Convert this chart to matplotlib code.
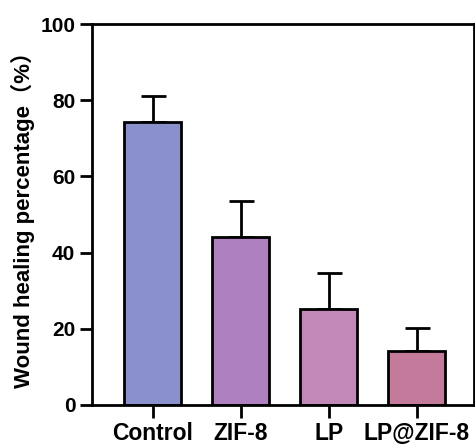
import matplotlib
matplotlib.use("Agg")
from matplotlib import pyplot as plt

groups = ["Control", "ZIF-8", "LP", "LP@ZIF-8"]
healing_mean = [74.2, 44.2, 25.1, 14.1]
healing_sd = [7.0, 9.3, 9.6, 6.2]
bar_colors = ["#8a90cc", "#ae80c0", "#c288b8", "#c47b9b"]

plt.rcParams["font.family"] = ["Liberation Sans", "Noto Sans CJK SC", "DejaVu Sans"]
plt.rcParams["font.weight"] = "bold"
lw = 2.0

fig = plt.figure(figsize=(4.75, 4.45), dpi=100)
ax = fig.add_axes([92 / 475, 40 / 445, 382 / 475, 381 / 445])

x = range(len(groups))
ax.bar(x, healing_mean, width=0.65, color=bar_colors, edgecolor="black", linewidth=lw, zorder=2)
ax.errorbar(x, healing_mean, yerr=[[0] * len(groups), healing_sd], fmt="none",
            ecolor="black", elinewidth=lw, capsize=9, capthick=lw, zorder=1)

ax.set_xlim(-0.69, 3.65)
ax.set_ylim(0, 100)
ax.set_yticks([0, 20, 40, 60, 80, 100])
ax.set_xticks(list(x))
ax.set_xticklabels(groups, fontsize=16.5, fontweight="bold")
ax.tick_params(axis="y", labelsize=15, length=9, width=lw, pad=3)
ax.tick_params(axis="x", length=9, width=lw, pad=3)
for lab in ax.get_yticklabels():
    lab.set_fontweight("bold")
for side in ax.spines.values():
    side.set_linewidth(lw)
ax.set_ylabel("Wound healing percentage（%）", fontsize=16, fontweight="bold", labelpad=4)

plt.savefig("out.png", dpi=100)
